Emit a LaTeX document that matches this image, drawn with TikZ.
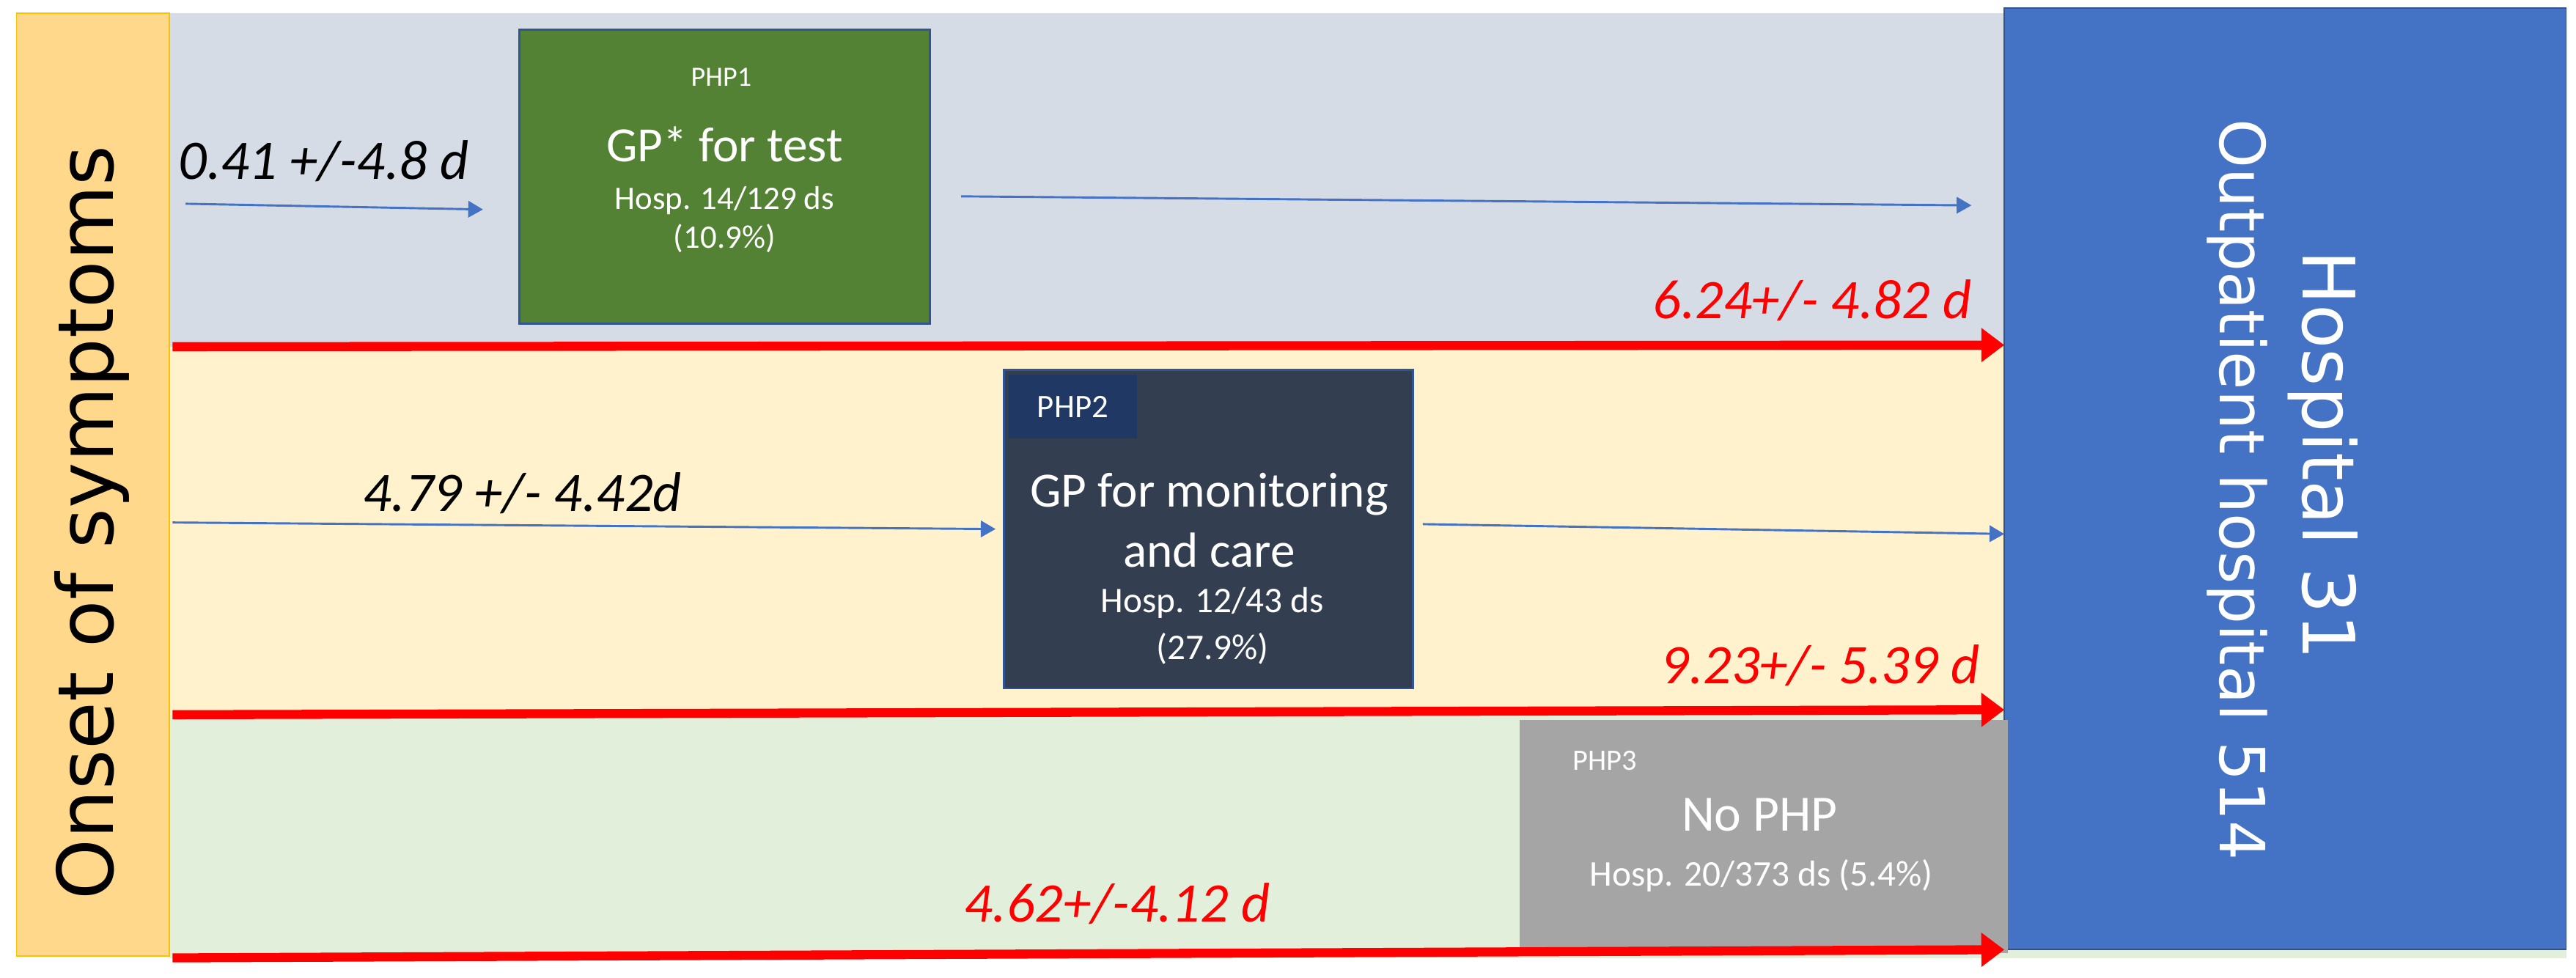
\documentclass[tikz,border=0pt]{standalone}
\usepackage{fontspec}
\setmainfont{Carlito}
\newfontfamily\verd{DejaVu Sans}
\usetikzlibrary{arrows.meta}
\definecolor{onsetfill}{HTML}{FFD88C}
\definecolor{onsetline}{HTML}{FFC000}
\definecolor{bandA}{HTML}{D6DCE5}
\definecolor{bandB}{HTML}{FFF2CC}
\definecolor{bandC}{HTML}{E2EFDA}
\definecolor{hospblue}{HTML}{4472C4}
\definecolor{hospline}{HTML}{2F528F}
\definecolor{greenbox}{HTML}{548235}
\definecolor{darkbox}{HTML}{333F50}
\definecolor{navybox}{HTML}{1F3864}
\definecolor{greybox}{HTML}{A5A5A5}
\definecolor{boxline}{HTML}{2F5597}
\definecolor{arrred}{HTML}{FF0000}
\newcommand\fsz[1]{\fontsize{#1}{#1}\selectfont}
\tikzset{
  rect/.style={rectangle, anchor=north west, inner sep=0pt, outer sep=0pt},
  bluearr/.style={draw=hospblue, line width=1.3pt, -{Triangle[length=9pt,width=10pt]}},
  redarr/.style={draw=arrred, line width=5.5pt, -{Triangle[length=14pt,width=20pt]}},
  wtext/.style={text=white, inner sep=0pt},
  durlab/.style={inner sep=0pt, font=\itshape\fsz{34}},
}
\begin{document}
\begin{tikzpicture}[x=1pt,y=-1pt]
\useasboundingbox (0,0) rectangle (1568,595);
\fill[white] (0,0) rectangle (1568,595);
% bands
\fill[bandA] (103,8) rectangle (1220,211);
\fill[bandB] (103,211) rectangle (1220,435);
\fill[bandC] (103,435) rectangle (1562,583);
% onset column
\node[rect, fill=onsetfill, draw=onsetline, line width=0.8pt, minimum width=93pt, minimum height=574pt] (onset) at (10,8) {};
\node[inner sep=0pt, rotate=90, font=\verd\fsz{47}] (onsettext) at (56,318) {Onset of symptoms};
% hospital
\node[rect, fill=hospblue, draw=hospline, line width=0.8pt, minimum width=342pt, minimum height=573pt] (hosp) at (1220,5) {};
\node[wtext, rotate=-90, font=\verd\fsz{44}] (hosptextA) at (1414,277) {Hospital 31};
\node[wtext, rotate=-90, font=\verd\fsz{38}] (hosptextB) at (1362,298) {Outpatient hospital 514};
% PHP1
\node[rect, fill=greenbox, draw=boxline, line width=1.3pt, minimum width=250pt, minimum height=179pt] (php1) at (316,18) {};
\node[wtext, font=\fsz{17}] (php1lab) at (439,47) {PHP1};
\node[wtext, font=\fsz{30}] (php1title) at (441,88) {GP* for test};
\node[wtext, font=\fsz{20}] (php1hosp) at (441,122) {Hosp. 14/129 ds};
\node[wtext, font=\fsz{20}] (php1pct) at (441,145) {(10.9\%)};
% PHP2
\node[rect, fill=darkbox, draw=boxline, line width=1.3pt, minimum width=249pt, minimum height=194pt] (php2) at (611,225) {};
\node[rect, fill=navybox, minimum width=78pt, minimum height=39pt] (php2tag) at (614,228) {};
\node[wtext, font=\fsz{20}] (php2lab) at (php2tag.center) {PHP2};
\node[wtext, font=\fsz{30}] (php2titleA) at (736,301) {GP for monitoring};
\node[wtext, font=\fsz{30}] (php2titleB) at (736,335) {and care};
\node[wtext, font=\fsz{22}] (php2hosp) at (738,367) {Hosp. 12/43 ds};
\node[wtext, font=\fsz{22}] (php2pct) at (738,395) {(27.9\%)};
% PHP3
\node[rect, fill=greybox, minimum width=297pt, minimum height=142pt] (php3) at (925,438) {};
\node[wtext, font=\fsz{18}] (php3lab) at (977,463) {PHP3};
\node[wtext, font=\fsz{31}] (php3title) at (1071,496) {No PHP};
\node[wtext, font=\fsz{22}] (php3hosp) at (1072,533) {Hosp. 20/373 ds (5.4\%)};
% arrow end coordinates
\coordinate (a1s) at (113,124);
\coordinate (a2e) at (1200,125);
\coordinate (b1s) at (105,318);
\coordinate (r1s) at (105,211);
\coordinate (r2s) at (105,435);
\coordinate (r3s) at (105,583);
% blue arrows
\draw[bluearr] (a1s) -- ([xshift=-22pt,yshift=-20pt]php1.west);
\draw[bluearr] ([xshift=19pt,yshift=-12pt]php1.east) -- (a2e);
\draw[bluearr] (b1s) -- ([xshift=-5pt,yshift=-0pt]php2.west);
\draw[bluearr] ([xshift=6pt,yshift=3pt]php2.east) -- (hosp.west |- 0,325);
% red arrows
\draw[redarr] (r1s) -- (hosp.west |- 0,210);
\draw[redarr] (r2s) -- (hosp.west |- 0,432);
\draw[redarr] (r3s) -- (hosp.west |- 0,578);
% labels
\node[durlab] (l1) at (197,98) {0.41 +/-4.8 d};
\node[durlab] (l2) at (318,300) {4.79 +/- 4.42d};
\node[durlab, text=arrred] (l3) at (1103,183) {6.24+/- 4.82 d};
\node[durlab, text=arrred] (l4) at (1108,405) {9.23+/- 5.39 d};
\node[durlab, text=arrred] (l5) at (680,550) {4.62+/-4.12 d};
\end{tikzpicture}
\end{document}
